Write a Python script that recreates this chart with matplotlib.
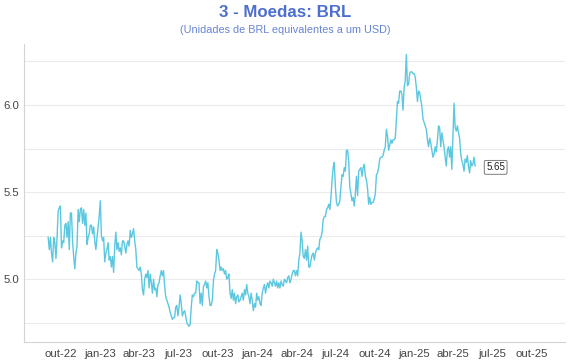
import matplotlib
matplotlib.use("Agg")
import matplotlib.pyplot as plt
import matplotlib.dates as mdates
from matplotlib.ticker import FixedLocator, FuncFormatter
import pandas as pd

# USD/BRL (approx. one point every ~2.3 days)
start_date = "2022-09-01"
end_date = "2025-05-22"
brl = [
    5.24, 5.17, 5.24, 5.15, 5.10, 5.24, 5.21, 5.12, 5.24, 5.39, 5.41, 5.42, 5.18, 5.22, 5.21, 5.31,
    5.32, 5.24, 5.33, 5.17, 5.38, 5.38, 5.22, 5.13, 5.06, 5.15, 5.19, 5.40, 5.33, 5.40, 5.41, 5.32,
    5.40, 5.31, 5.38, 5.20, 5.24, 5.26, 5.31, 5.31, 5.26, 5.30, 5.22, 5.17, 5.24, 5.30, 5.36, 5.45,
    5.25, 5.22, 5.24, 5.10, 5.15, 5.17, 5.21, 5.11, 5.13, 5.07, 5.13, 5.04, 5.19, 5.27, 5.17, 5.21,
    5.16, 5.18, 5.14, 5.22, 5.22, 5.19, 5.15, 5.20, 5.22, 5.19, 5.28, 5.24, 5.26, 5.29, 5.22, 5.17,
    5.07, 5.06, 5.05, 5.07, 5.03, 4.94, 4.91, 5.00, 5.03, 5.01, 5.05, 4.95, 5.03, 4.98, 4.92, 5.00,
    4.94, 4.95, 4.90, 4.97, 4.98, 5.02, 5.05, 5.02, 5.05, 4.96, 4.90, 4.88, 4.86, 4.84, 4.81, 4.79,
    4.77, 4.78, 4.78, 4.84, 4.85, 4.79, 4.84, 4.91, 4.86, 4.79, 4.81, 4.82, 4.79, 4.75, 4.74, 4.73,
    4.74, 4.84, 4.91, 4.90, 4.92, 4.92, 4.99, 4.98, 4.98, 4.86, 4.92, 4.85, 4.96, 4.97, 4.99, 4.95,
    4.98, 4.90, 4.85, 4.85, 4.88, 4.99, 5.03, 5.05, 5.17, 5.15, 5.11, 5.05, 5.07, 5.05, 5.06, 5.03,
    5.05, 5.00, 5.01, 5.03, 4.92, 4.89, 4.94, 4.88, 4.92, 4.86, 4.90, 4.91, 4.87, 4.88, 4.90, 4.92,
    4.88, 4.94, 4.91, 4.97, 4.92, 4.90, 4.86, 4.92, 4.88, 4.82, 4.86, 4.84, 4.92, 4.88, 4.90, 4.86,
    4.85, 4.92, 4.95, 4.97, 4.92, 4.96, 4.98, 4.95, 4.99, 4.98, 4.96, 5.00, 4.98, 4.96, 4.99, 4.95,
    4.98, 4.95, 4.99, 4.97, 4.96, 5.00, 4.99, 4.98, 5.01, 5.02, 4.98, 5.00, 5.03, 5.05, 5.05, 5.02,
    5.05, 5.02, 5.11,
    5.15, 5.27, 5.22, 5.13, 5.12, 5.17, 5.11, 5.19, 5.07, 5.07, 5.11, 5.14, 5.15, 5.11, 5.15, 5.17,
    5.18, 5.17, 5.23, 5.24, 5.27, 5.34, 5.36, 5.36, 5.40, 5.41, 5.43, 5.40, 5.47, 5.57, 5.64, 5.67,
    5.53, 5.44, 5.42, 5.43, 5.45, 5.53, 5.60, 5.59, 5.64, 5.62, 5.74, 5.74, 5.68, 5.53, 5.49, 5.45,
    5.47, 5.42, 5.49, 5.59, 5.48, 5.62, 5.63, 5.64, 5.59, 5.64, 5.66, 5.59, 5.57, 5.52, 5.43, 5.47,
    5.43, 5.44, 5.44, 5.46, 5.49, 5.60, 5.61, 5.64, 5.69, 5.70, 5.70, 5.71, 5.74, 5.76, 5.86, 5.82,
    5.74, 5.77, 5.80, 5.78, 5.80, 5.80, 5.81, 5.91, 6.02, 6.01, 6.08, 6.08, 6.06, 5.97, 6.10, 6.14,
    6.29, 6.11, 6.12, 6.18, 6.19, 6.19, 6.18, 6.18, 6.16, 6.10, 6.02, 6.08, 6.07, 6.03, 5.99, 5.92,
    5.90, 5.88, 5.86, 5.80, 5.76, 5.81, 5.78, 5.74, 5.70, 5.72, 5.76, 5.73, 5.80, 5.88, 5.87, 5.76,
    5.84, 5.80, 5.76, 5.70, 5.65, 5.74, 5.76, 5.70, 5.76, 5.63, 5.82, 6.01, 5.87, 5.85, 5.88, 5.84,
    5.81, 5.72, 5.68, 5.66, 5.62, 5.69, 5.67, 5.71, 5.65, 5.61, 5.68, 5.65, 5.66, 5.70, 5.65,
]
dates = pd.date_range(start_date, end_date, periods=len(brl))

title = "3 - Moedas: BRL"
subtitle = "(Unidades de BRL equivalentes a um USD)"
month_pt = {1: "jan", 4: "abr", 7: "jul", 10: "out"}
tick_dates = pd.date_range("2022-10-01", "2025-10-01", freq="QS-OCT")

LINE = "#5bc8e0"
TITLE_C = "#4d6fcf"
SUB_C = "#6784d6"

plt.rcParams["font.family"] = ["Liberation Sans", "DejaVu Sans"]

fig = plt.figure(figsize=(5.7, 3.6), dpi=100)
ax = fig.add_axes([0.0416, 0.05, 0.9494, 0.828])

ax.plot(dates, brl, color=LINE, lw=1.0)

ax.set_xlim(pd.Timestamp("2022-07-06"), pd.Timestamp("2025-12-17"))
ax.set_ylim(4.64, 6.35)

ax.xaxis.set_major_locator(FixedLocator(mdates.date2num(tick_dates)))
ax.xaxis.set_major_formatter(FuncFormatter(
    lambda v, p: f"{month_pt[mdates.num2date(v).month]}-{mdates.num2date(v).strftime('%y')}"))
ax.set_yticks([5.0, 5.5, 6.0])
ax.set_yticks([4.75, 5.25, 5.75, 6.25], minor=True)
ax.yaxis.set_major_formatter(FuncFormatter(lambda v, p: f"{v:.1f}"))

ax.tick_params(axis="both", which="both", length=0, labelsize=8.2, colors="#444444")
ax.tick_params(axis="x", pad=5)
ax.tick_params(axis="y", pad=3)
ax.grid(True, axis="y", which="both", color="#ebebeb", lw=0.8)
ax.set_axisbelow(True)
for s in ("top", "right"):
    ax.spines[s].set_visible(False)
for s in ("left", "bottom"):
    ax.spines[s].set_color("#d4d4d4")
    ax.spines[s].set_linewidth(0.8)

ax.annotate(f"{brl[-1]:.2f}", xy=(dates[-1], brl[-1]), xytext=(8, -1),
            textcoords="offset points", ha="left", va="center", fontsize=7, color="#222222",
            bbox=dict(boxstyle="round,pad=0.2,rounding_size=0.15", fc="white", ec="#666666", lw=0.6))

fig.text(0.5, 0.965, title, ha="center", va="center", fontsize=12.2, fontweight="bold", color=TITLE_C)
fig.text(0.5, 0.917, subtitle, ha="center", va="center", fontsize=7.8, color=SUB_C)

fig.savefig("out.png", dpi=100, facecolor="white")
